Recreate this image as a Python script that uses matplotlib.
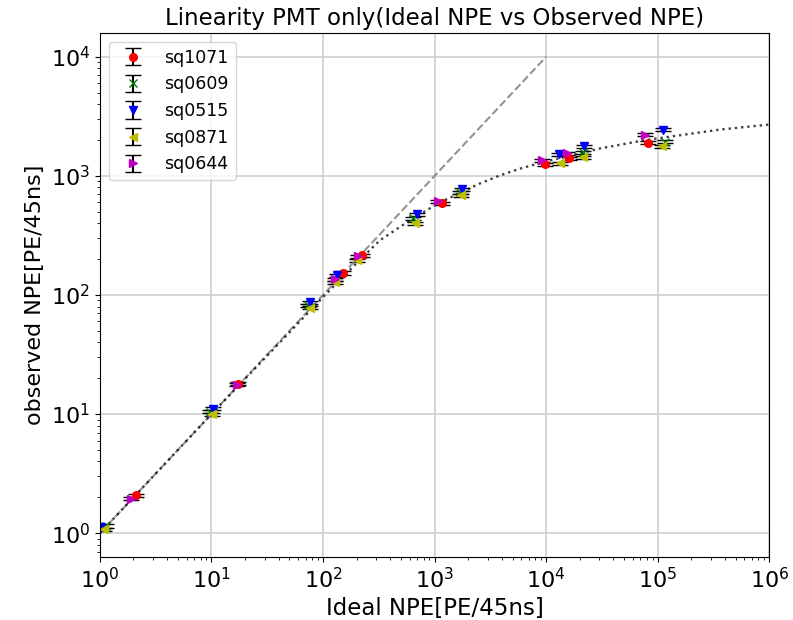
import matplotlib
matplotlib.use("Agg")
import matplotlib.pyplot as plt
import numpy as np

# ideal NPE (x) and observed NPE (y) per PMT
sensors = ["sq1071", "sq0609", "sq0515", "sq0871", "sq0644"]
colors = ["r", "g", "b", "y", "m"]
markers = ["o", "x", "v", "<", ">"]

x_sq1071 = [2.1, 17.3, 151, 224, 1167, 9800, 16100, 82200]
y_sq1071 = [2.08, 18.0, 153, 216, 589, 1248, 1400, 1906]

x_sq0609 = [1.13, 9.8, 74, 641, 1700, 21500, 117000]
y_sq0609 = [1.15, 10.5, 82, 440, 728, 1574, 1944]

x_sq0515 = [1.03, 10.3, 76, 134, 697, 1765, 13100, 21900, 112000]
y_sq0515 = [1.13, 11.1, 87, 147, 476, 771, 1514, 1766, 2450]

x_sq0871 = [1.08, 10.1, 76, 128, 202, 668, 1730, 13300, 21500, 110000]
y_sq0871 = [1.08, 10.0, 78, 128, 196, 400, 687, 1273, 1429, 1766]

x_sq0644 = [1.9, 17.0, 128, 206, 1072, 9200, 15400, 77300]
y_sq0644 = [1.95, 17.6, 136, 212, 612, 1349, 1543, 2222]

xs = [x_sq1071, x_sq0609, x_sq0515, x_sq0871, x_sq0644]
ys = [y_sq1071, y_sq0609, y_sq0515, y_sq0871, y_sq0644]

# saturation curve (dotted)
fit_x = [1, 10, 100, 200, 325, 640, 1120, 1800, 2560, 3870, 6000, 10200, 30500, 74000, 364000, 1000000]
fit_y = [1, 10, 96, 185, 289, 440, 600, 740, 865, 1010, 1160, 1330, 1700, 1983, 2450, 2700]

# ideal line
ideal_x = [1, 10000]

fig = plt.figure(figsize=(7.93, 6.2), dpi=100)
ax = fig.add_axes([0.126, 0.1016, 0.844, 0.8452])

for name, c, m, x, y in zip(sensors, colors, markers, xs, ys):
    y = np.array(y)
    ax.errorbar(x, y, yerr=0.03 * y, fmt=m, color=c, ecolor="k",
                capsize=5.5, markersize=5.5, label=name)

ax.plot(ideal_x, ideal_x, "--", color="gray", alpha=0.85, lw=1.5)
ax.plot(fit_x, fit_y, ":", color="k", lw=1.7, alpha=0.75)

ax.set_xscale("log")
ax.set_yscale("log")
ax.set_xlim(1, 1e6)
ax.set_ylim(10 ** -0.2, 10 ** 4.2)
ax.grid(True, color="#d0d0d0", lw=1.2)
ax.tick_params(labelsize=16)

ax.set_title("Linearity PMT only(Ideal NPE vs Observed NPE)", fontsize=16.5)
ax.set_xlabel("Ideal NPE[PE/45ns]", fontsize=16.5)
ax.set_ylabel("observed NPE[PE/45ns]", fontsize=16)
ax.legend(loc="upper left", fontsize=12.5)

fig.savefig("out.png")
